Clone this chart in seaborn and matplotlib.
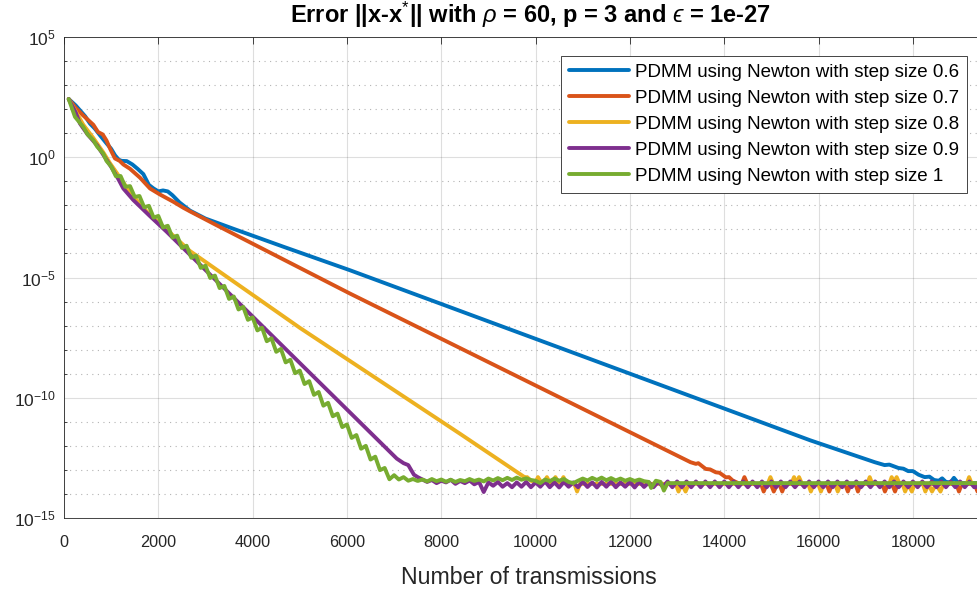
import numpy as np
import pandas as pd
import matplotlib
matplotlib.use("Agg")
import matplotlib.pyplot as plt
import seaborn as sns
from matplotlib.ticker import FixedLocator, LogFormatterSciNotation, NullFormatter

sns.set_theme(style="white")
plt.rcParams["font.family"] = ["Liberation Sans", "DejaVu Sans"]
plt.rcParams["mathtext.fontset"] = "custom"
plt.rcParams["mathtext.rm"] = "Liberation Sans"
plt.rcParams["mathtext.it"] = "Liberation Sans:italic"
plt.rcParams["mathtext.bf"] = "Liberation Sans:bold"
plt.rcParams["mathtext.fallback"] = "stixsans"

# ---------------- data (x = transmissions, y = log10 of error) ----------------
labels = ["PDMM using Newton with step size 0.6",
          "PDMM using Newton with step size 0.7",
          "PDMM using Newton with step size 0.8",
          "PDMM using Newton with step size 0.9",
          "PDMM using Newton with step size 1"]
colors = ["#0072BD", "#D95319", "#EDB120", "#7E2F8E", "#77AC30"]

s06_x = [100, 250, 339, 450, 551, 650, 764, 905, 1000, 1082, 1160, 1220, 1330, 1450,
         1560, 1682, 1800, 1900, 2000, 2100, 2200, 2300, 2450, 2672, 3000, 3239, 3600,
         4651, 6066, 10000, 15823, 16500, 17192, 17400, 17500, 17692, 17800, 17900,
         18000, 18121, 18250, 18350, 18450, 18550, 18620, 18700, 18800, 18870, 18950,
         19100, 19720]
s06_logy = [2.42, 2.15, 1.95, 1.70, 1.40, 1.20, 0.91, 0.57, 0.35, 0.08, -0.10, -0.15,
            -0.16, -0.30, -0.48, -0.70, -1.15, -1.30, -1.42, -1.38, -1.42, -1.58, -1.88,
            -2.22, -2.55, -2.72, -2.98, -3.72, -4.70, -7.55, -11.77, -12.22, -12.68,
            -12.80, -12.78, -12.92, -12.95, -13.05, -13.05, -13.20, -13.30, -13.28,
            -13.42, -13.45, -13.35, -13.50, -13.52, -13.33, -13.52, -13.55, -13.55]

s07_x = [100, 250, 400, 622, 720, 820, 900, 976, 1080, 1180, 1258, 1400, 1612, 1824,
         2036, 2318, 2530, 2672, 3239, 6066, 13285, 13400, 13450, 13607, 13700, 13821,
         13900, 14035, 14100, 14178, 14300, 14370, 14428, 14490, 14780, 14836, 14900,
         14990, 15050, 15120, 15170, 15229, 15290, 16170, 16228, 16290, 16560, 16621,
         16680, 16780, 16835, 16890, 17350, 17407, 17470, 17560, 17621, 17680, 18920,
         18977, 19040, 19310, 19370, 19430, 19720]
s07_logy = [2.42, 2.05, 1.75, 1.35, 1.05, 0.95, 0.70, 0.36, -0.05, -0.15, -0.30, -0.48,
            -0.85, -1.30, -1.55, -1.85, -2.10, -2.25, -2.83, -5.67, -12.68, -12.75,
            -12.72, -12.96, -12.98, -13.10, -13.12, -13.31, -13.30, -13.44, -13.55,
            -13.58, -13.30, -13.58, -13.58, -13.90, -13.60, -13.60, -13.90, -13.60,
            -13.60, -13.90, -13.58, -13.58, -13.90, -13.58, -13.58, -13.90, -13.58,
            -13.58, -13.90, -13.58, -13.58, -13.90, -13.60, -13.60, -13.90, -13.58,
            -13.58, -13.90, -13.58, -13.58, -13.90, -13.58, -13.58]

s08_x = [100, 250, 409, 622, 834, 976, 1118, 1258, 1400, 1612, 1824, 2200, 2672, 5006,
         8399, 9780, 9821, 9900, 10000, 10050, 10120, 10180, 10240, 10300,
         10360, 10420, 10480, 10530, 10590, 10650, 10820, 10880, 10940, 12970, 13030,
         13100, 13180, 13250, 14920, 14979, 15040, 15420, 15480, 15530, 15586, 15650,
         15780, 15836, 15900, 15990, 16050, 16110, 16350, 16407, 16470, 17030, 17085,
         17140, 17500, 17550, 17600, 17656, 17720, 17780, 17835, 17900, 17978, 18040,
         18210, 18264, 18330, 18406, 18490, 18585, 18650, 19140, 19192, 19250, 19720]
s08_logy = [2.42, 1.90, 1.35, 0.80, 0.20, -0.25, -0.65, -1.05, -1.45, -1.95, -2.40,
            -3.05, -3.90, -7.10, -11.50, -13.32, -13.30, -13.45, -13.52,
            -13.30, -13.52, -13.52, -13.30, -13.52, -13.52, -13.30, -13.52, -13.52,
            -13.30, -13.55, -13.58, -13.90, -13.58, -13.58, -13.90, -13.58, -13.90,
            -13.58, -13.58, -13.30, -13.58, -13.58, -13.30, -13.55, -13.30, -13.58,
            -13.58, -13.90, -13.58, -13.58, -13.90, -13.58, -13.58, -13.90, -13.58,
            -13.58, -13.30, -13.58, -13.58, -13.30, -13.50, -13.30, -13.58, -13.58,
            -13.90, -13.60, -13.90, -13.58, -13.58, -13.90, -13.60, -13.90, -13.60,
            -13.90, -13.58, -13.58, -13.30, -13.58, -13.58]

s09_x = [100, 250, 339, 500, 700, 834, 1000, 1150, 1258, 1470, 1824, 2178, 7056, 7200,
         7300, 7420, 7500] + list(range(7600, 19301, 100)) + [19720]
s09_logy = [2.42, 1.85, 1.40, 0.95, 0.50, 0.10, -0.40, -0.90, -1.30, -1.78, -2.45,
            -3.10, -12.53, -12.72, -12.80, -13.20, -13.30,
            -13.40, -13.50, -13.42, -13.55, -13.45, -13.52, -13.41, -13.58, -13.46, -13.55,
            -13.44, -13.60, -13.50, -13.92,
            -13.52, -13.66, -13.50, -13.70, -13.55, -13.72, -13.52, -13.70, -13.50, -13.72,
            -13.52, -13.70, -13.48, -13.72, -13.52, -13.73, -13.50, -13.70, -13.52, -13.72,
            -13.49, -13.71, -13.52, -13.73, -13.50, -13.70, -13.48, -13.72, -13.52, -13.70,
            -13.50, -13.73, -13.49, -13.71, -13.52, -13.72, -13.50, -13.70, -13.48, -13.72,
            -13.48, -13.72, -13.48, -13.72, -13.48, -13.72, -13.48, -13.72, -13.48, -13.72,
            -13.48, -13.72, -13.48, -13.72, -13.48, -13.72, -13.48, -13.72, -13.48, -13.72,
            -13.48, -13.72, -13.48, -13.72, -13.48, -13.72, -13.48, -13.72, -13.48, -13.72,
            -13.48, -13.72, -13.48, -13.72, -13.48, -13.72, -13.48, -13.72, -13.48, -13.72,
            -13.48, -13.72, -13.48, -13.72, -13.48, -13.72, -13.48, -13.72, -13.48, -13.72,
            -13.48, -13.72, -13.48, -13.72, -13.48, -13.72, -13.48, -13.72, -13.48, -13.72,
            -13.48, -13.72, -13.48, -13.72,
            -13.60]

s10_x = ([100, 233, 409, 500, 622, 700, 834, 900] + list(range(1000, 6901, 100))
         + list(range(7000, 12401, 100)) + [12450, 12550, 12650, 12720, 12800, 19720])
s10_logy = [2.42, 1.68, 1.26, 0.95, 0.71, 0.45, 0.15, -0.15,
            -0.38, -0.79, -0.78, -1.23, -1.20, -1.65, -1.61, -2.08, -2.02, -2.51,
            -2.44, -2.92, -2.85, -3.34, -3.26, -3.77, -3.68, -4.18, -4.09, -4.60,
            -4.51, -5.02, -4.92, -5.44, -5.35, -5.89, -5.79, -6.33, -6.22, -6.76,
            -6.66, -7.20, -7.09, -7.65, -7.53, -8.09, -7.97, -8.53, -8.42, -8.98,
            -8.87, -9.43, -9.31, -9.88, -9.76, -10.33, -10.21, -10.77, -10.66, -11.22,
            -11.11, -11.67, -11.55, -12.12, -12.00, -12.57, -12.45, -13.01, -12.92, -13.39,
            -13.22, -13.40, -13.30, -13.45, -13.38, -13.46, -13.40, -13.48, -13.38, -13.47,
            -13.40, -13.49, -13.41, -13.50, -13.42, -13.47, -13.38, -13.46, -13.40, -13.48,
            -13.36, -13.44, -13.34, -13.43, -13.33, -13.42, -13.32, -13.41, -13.35, -13.42,
            -13.45, -13.55, -13.40, -13.47, -13.36, -13.45, -13.38, -13.50, -13.55, -13.45,
            -13.36, -13.44, -13.33, -13.42, -13.32, -13.43, -13.34, -13.44, -13.36, -13.45,
            -13.38, -13.46, -13.40, -13.47, -13.50,
            -13.75, -13.45, -13.50, -13.86, -13.55, -13.55]

xs = [s06_x, s07_x, s08_x, s09_x, s10_x]
ys = [s06_logy, s07_logy, s08_logy, s09_logy, s10_logy]
frames = []
for lab, xv, yv in zip(labels, xs, ys):
    frames.append(pd.DataFrame({"x": xv, "y": 10.0 ** np.asarray(yv), "series": lab}))
df = pd.concat(frames, ignore_index=True)

# ---------------- figure ----------------
W, H = 978, 590
fig = plt.figure(figsize=(W / 100, H / 100), dpi=100)
ax_l, ax_r, ax_t, ax_b = 64, 994, 37, 518
ax = fig.add_axes([ax_l / W, (H - ax_b) / H, (ax_r - ax_l) / W, (ax_b - ax_t) / H])

sns.lineplot(data=df, x="x", y="y", hue="series", hue_order=labels,
             palette=colors, linewidth=2.8, estimator=None, sort=False, ax=ax)

ax.set_yscale("log")
ax.set_xlim(0, 19720)
ax.set_ylim(1e-15, 1e5)

dark = "#262626"
ax.set_xticks(list(range(0, 18001, 2000)))
ax.yaxis.set_major_locator(FixedLocator([1e-15, 1e-10, 1e-5, 1e0, 1e5]))
ax.yaxis.set_minor_locator(FixedLocator([10.0 ** k for k in range(-15, 6) if k % 5]))
ax.yaxis.set_major_formatter(LogFormatterSciNotation())
ax.yaxis.set_minor_formatter(NullFormatter())
ax.tick_params(which="major", direction="in", top=True, right=True, length=5,
               width=0.6, color=dark, labelcolor=dark)
ax.tick_params(which="minor", direction="in", left=True, right=True, length=2.5,
               width=0.6, color=dark)
ax.tick_params(axis="x", pad=12, labelsize=11.7)
ax.tick_params(axis="y", pad=6, labelsize=12.5)

ax.set_axisbelow(True)
ax.grid(True, which="major", axis="both", color=dark, alpha=0.15, linewidth=0.8)
ax.yaxis.grid(True, which="minor", color=dark, alpha=0.35, linewidth=0.8,
              linestyle=(0, (1, 4)))
for sp in ax.spines.values():
    sp.set_color(dark)
    sp.set_linewidth(0.6)

ax.set_xlabel("Number of transmissions", fontsize=16.7, color=dark, labelpad=11.5)
ax.set_ylabel("")

fig.text(530 / W, 1 - 23 / H,
         r"Error ||x-x$^{*}$|| with $\rho$ = 60, p = 3 and $ϵ$ = 1e-27",
         ha="center", va="baseline", fontsize=17, fontweight="bold", color="black")

handles, _ = ax.get_legend_handles_labels()
leg = ax.legend(handles, labels, loc="upper right",
                bbox_to_anchor=((967 - ax_l) / (ax_r - ax_l), (ax_b - 56) / (ax_b - ax_t)),
                borderaxespad=0, frameon=True, fancybox=False, framealpha=1,
                edgecolor=dark, fontsize=13.5, handlelength=3.2, handletextpad=0.3,
                labelspacing=0.47, borderpad=0.42)
leg.get_frame().set_linewidth(0.6)
for t in leg.get_texts():
    t.set_color("black")
for lh in leg.get_lines():
    lh.set_linewidth(2.8)

fig.savefig("out.png", dpi=100)
